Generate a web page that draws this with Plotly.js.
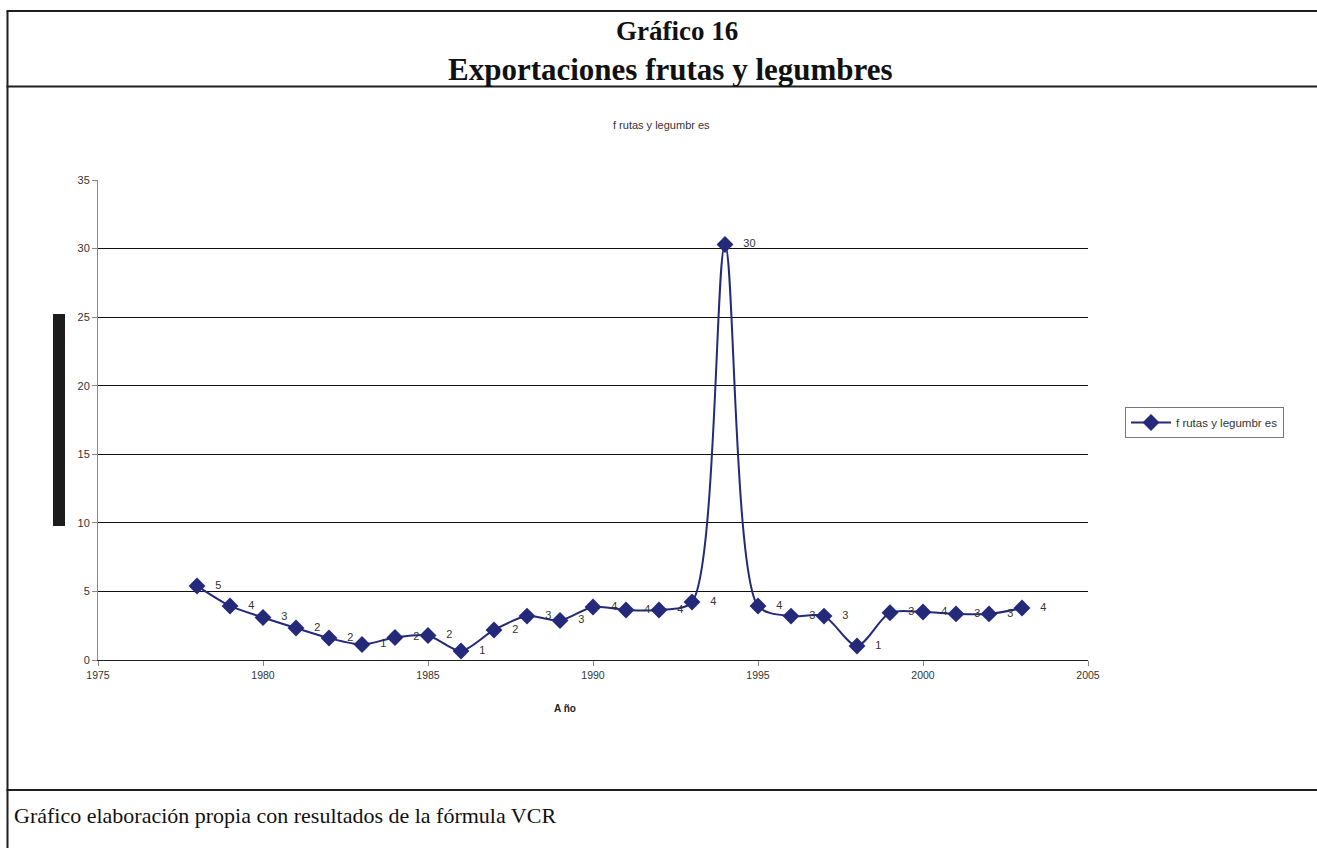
<!DOCTYPE html>
<html>
<head>
<meta charset="utf-8">
<script src="https://cdn.plot.ly/plotly-3.0.1.min.js"></script>
<style>html,body{margin:0;padding:0;background:#fff;}#chart{width:1317px;height:848px;}</style>
</head>
<body>
<div id="chart"></div>
<script>
const years = [1978,1979,1980,1981,1982,1983,1984,1985,1986,1987,1988,1989,1990,1991,1992,1993,1994,1995,1996,1997,1998,1999,2000,2001,2002,2003];
const values = [5.40,3.94,3.10,2.33,1.60,1.13,1.64,1.79,0.66,2.19,3.20,2.88,3.87,3.65,3.65,4.23,30.30,3.94,3.20,3.20,1.02,3.45,3.50,3.36,3.36,3.79];
const labels = values.map(v => "   " + String(Math.round(v)));
const seriesName = "f rutas y legumbr es";
const xTitle = "A ño";
const mainTitle1 = "Gráfico 16";
const mainTitle2 = "Exportaciones frutas y legumbres";
const footer = "Gráfico elaboración propia con resultados de la fórmula VCR";

const W = 1317, H = 848;
const L = 98, R = 1088, T = 180, B = 660;
const px = x => (x - L) / (R - L);
const py = y => (B - y) / (B - T);
const navy = "#25297a";

const trace = {
  x: years, y: values, text: labels,
  type: "scatter", mode: "lines+markers+text",
  name: seriesName,
  line: {color: navy, width: 2, shape: "spline", smoothing: 0.8},
  marker: {symbol: "diamond", size: 13, color: navy},
  textposition: "middle right",
  textfont: {family: "Liberation Sans, Arial", size: 11, color: "#333"},
  cliponaxis: false
};

const lineStyle = {color: "#1e1e1e", width: 2};
const shapes = [
  {type: "line", xref: "paper", yref: "paper", x0: px(7.5), x1: px(7.5), y0: py(11), y1: py(850), line: lineStyle},
  {type: "line", xref: "paper", yref: "paper", x0: px(6.5), x1: px(1320), y0: py(11), y1: py(11), line: lineStyle},
  {type: "line", xref: "paper", yref: "paper", x0: px(6.5), x1: px(1320), y0: py(86.5), y1: py(86.5), line: lineStyle},
  {type: "line", xref: "paper", yref: "paper", x0: px(6.5), x1: px(1320), y0: py(790), y1: py(790), line: lineStyle},
  {type: "rect", xref: "paper", yref: "paper", x0: px(53), x1: px(65), y0: py(526), y1: py(314), fillcolor: "#1c1c1c", line: {width: 0}}
];

const annotations = [
  {text: "<b>" + mainTitle1 + "</b>", xref: "paper", yref: "paper", x: px(677), y: py(31), xanchor: "center", yanchor: "middle", showarrow: false, font: {family: "Liberation Serif, Times New Roman", size: 27, color: "#111"}},
  {text: "<b>" + mainTitle2 + "</b>", xref: "paper", yref: "paper", x: px(670), y: py(69), xanchor: "center", yanchor: "middle", showarrow: false, font: {family: "Liberation Serif, Times New Roman", size: 31, color: "#111"}},
  {text: seriesName, xref: "paper", yref: "paper", x: px(661), y: py(125), xanchor: "center", yanchor: "middle", showarrow: false, font: {family: "Liberation Sans, Arial", size: 11, color: "#333"}},
  {text: "<b>" + xTitle + "</b>", xref: "paper", yref: "paper", x: px(565), y: py(708), xanchor: "center", yanchor: "middle", showarrow: false, font: {family: "Liberation Sans, Arial", size: 10, color: "#222"}},
  {text: footer, xref: "paper", yref: "paper", x: px(12), y: py(815), xanchor: "left", yanchor: "middle", showarrow: false, font: {family: "Liberation Serif, Times New Roman", size: 22, color: "#111"}}
];

const layout = {
  width: W, height: H,
  margin: {l: L, r: W - R, t: T, b: H - B, pad: 0},
  paper_bgcolor: "#fff", plot_bgcolor: "#fff",
  showlegend: true,
  legend: {x: px(1125), y: py(407), xanchor: "left", yanchor: "top", bordercolor: "#777", borderwidth: 1, bgcolor: "#fff",
           font: {family: "Liberation Sans, Arial", size: 11.5, color: "#333"}, itemwidth: 40, tracegroupgap: 0},
  xaxis: {range: [1975, 2005], dtick: 5, tick0: 1975, showgrid: false, zeroline: false,
          showline: true, linecolor: "#222", linewidth: 1, ticks: "outside", ticklen: 5, tickcolor: "#888",
          tickfont: {family: "Liberation Sans, Arial", size: 10.5, color: "#333"}},
  yaxis: {range: [0, 35], dtick: 5, tick0: 0, showgrid: true, gridcolor: "#111", gridwidth: 1, zeroline: false,
          showline: true, linecolor: "#888", linewidth: 1, ticks: "outside", ticklen: 5, tickcolor: "#888",
          tickfont: {family: "Liberation Sans, Arial", size: 11, color: "#333"}},
  shapes: shapes,
  annotations: annotations
};

Plotly.newPlot("chart", [trace], layout, {displayModeBar: false, responsive: false});
</script>
</body>
</html>
